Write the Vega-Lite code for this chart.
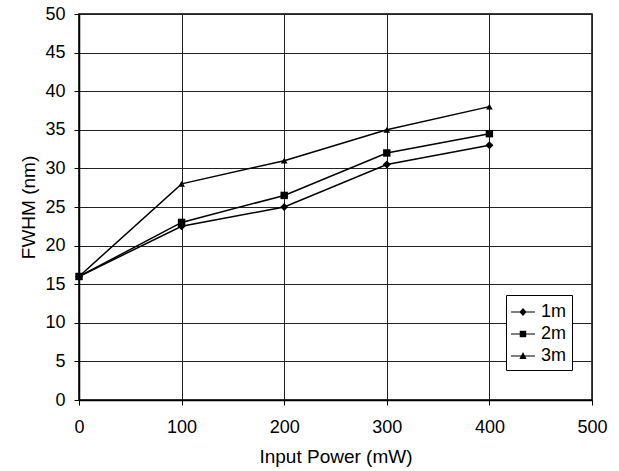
{
  "$schema": "https://vega.github.io/schema/vega-lite/v6.json",
  "width": 513,
  "height": 386,
  "autosize": {"type": "none"},
  "padding": {"left": 79, "top": 14, "right": 27, "bottom": 71},
  "background": "white",
  "config": {
    "font": "Liberation Sans",
    "view": {"stroke": "black", "strokeWidth": 1.5},
    "axis": {
      "grid": true,
      "gridColor": "#222",
      "gridWidth": 1,
      "gridOpacity": 1,
      "domainColor": "black",
      "domainWidth": 1.5,
      "tickColor": "black",
      "tickSize": 5,
      "tickWidth": 1,
      "labelFont": "Liberation Sans",
      "labelFontSize": 18,
      "labelColor": "black",
      "titleFont": "Liberation Sans",
      "titleFontSize": 19,
      "titleFontWeight": "normal",
      "titleColor": "black"
    }
  },
  "data": {
    "values": [
      {"power": 0, "fwhm": 16, "series": "1m"},
      {"power": 100, "fwhm": 22.5, "series": "1m"},
      {"power": 200, "fwhm": 25, "series": "1m"},
      {"power": 300, "fwhm": 30.5, "series": "1m"},
      {"power": 400, "fwhm": 33, "series": "1m"},
      {"power": 0, "fwhm": 16, "series": "2m"},
      {"power": 100, "fwhm": 23, "series": "2m"},
      {"power": 200, "fwhm": 26.5, "series": "2m"},
      {"power": 300, "fwhm": 32, "series": "2m"},
      {"power": 400, "fwhm": 34.5, "series": "2m"},
      {"power": 0, "fwhm": 16, "series": "3m"},
      {"power": 100, "fwhm": 28, "series": "3m"},
      {"power": 200, "fwhm": 31, "series": "3m"},
      {"power": 300, "fwhm": 35, "series": "3m"},
      {"power": 400, "fwhm": 38, "series": "3m"}
    ]
  },
  "encoding": {
    "x": {
      "field": "power",
      "type": "quantitative",
      "title": "Input Power (mW)",
      "scale": {"domain": [0, 500], "nice": false},
      "axis": {"values": [0, 100, 200, 300, 400, 500], "labelPadding": 13, "titlePadding": 11, "labelFlush": false}
    },
    "y": {
      "field": "fwhm",
      "type": "quantitative",
      "title": "FWHM (nm)",
      "scale": {"domain": [0, 50], "nice": false},
      "axis": {"values": [0, 5, 10, 15, 20, 25, 30, 35, 40, 45, 50], "labelPadding": 9, "titlePadding": 6}
    }
  },
  "layer": [
    {
      "mark": {"type": "line", "color": "black", "strokeWidth": 1.5},
      "encoding": {"detail": {"field": "series"}}
    },
    {
      "mark": {"type": "point", "filled": true, "color": "black", "opacity": 1},
      "encoding": {
        "shape": {
          "field": "series",
          "type": "nominal",
          "scale": {"domain": ["1m", "2m", "3m"], "range": ["diamond", "square", "triangle-up"]},
          "legend": null
        },
        "size": {
          "field": "series",
          "type": "nominal",
          "scale": {"domain": ["1m", "2m", "3m"], "range": [65, 45, 95]},
          "legend": null
        }
      }
    },
    {
      "mark": {"type": "point", "filled": true, "color": "black", "opacity": 0},
      "encoding": {
        "shape": {
          "field": "series",
          "type": "nominal",
          "scale": {
            "domain": ["1m", "2m", "3m"],
            "range": [
              "M-1,-0.05H1V0.05H-1Z M0,-0.33L0.3,0L0,0.33L-0.3,0Z",
              "M-1,-0.05H1V0.05H-1Z M-0.27,-0.27H0.27V0.27H-0.27Z",
              "M-1,-0.05H1V0.05H-1Z M0,-0.33L0.3,0.25H-0.3Z"
            ]
          },
          "legend": {
            "title": null,
            "orient": "none",
            "legendX": 427,
            "legendY": 281,
            "symbolSize": 576,
            "symbolOpacity": 1,
            "symbolFillColor": "black",
            "symbolStrokeColor": "black",
            "symbolStrokeWidth": 0,
            "labelFont": "Liberation Sans",
            "labelFontSize": 18,
            "labelColor": "black",
            "labelOffset": 6,
            "rowPadding": 1,
            "padding": 5,
            "strokeColor": "black",
            "fillColor": "white",
            "cornerRadius": 0
          }
        }
      }
    }
  ],
  "resolve": {"scale": {"shape": "independent"}, "legend": {"shape": "independent"}}
}
